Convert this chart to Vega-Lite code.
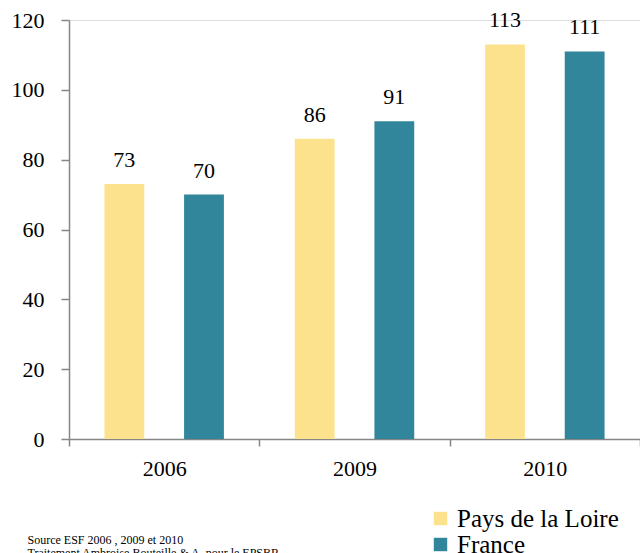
{
  "$schema": "https://vega.github.io/schema/vega-lite/v6.json",
  "width": 571,
  "height": 419,
  "autosize": {"type": "none"},
  "padding": {"left": 69, "top": 20, "right": 0, "bottom": 114},
  "background": "white",
  "config": {"font": "Liberation Serif"},
  "data": {
    "values": [
      {"annee": "2006", "zone": "Pays de la Loire", "valeur": 73},
      {"annee": "2006", "zone": "France", "valeur": 70},
      {"annee": "2009", "zone": "Pays de la Loire", "valeur": 86},
      {"annee": "2009", "zone": "France", "valeur": 91},
      {"annee": "2010", "zone": "Pays de la Loire", "valeur": 113},
      {"annee": "2010", "zone": "France", "valeur": 111}
    ]
  },
  "encoding": {
    "x": {
      "field": "annee", "type": "nominal",
      "scale": {"paddingInner": 0, "paddingOuter": 0},
      "axis": {
        "title": ["Source ESF 2006 , 2009 et 2010", "Traitement Ambroise Bouteille & A. pour le EPSBR"],
        "titleX": -42, "titleY": 104, "titleAlign": "left", "titleAnchor": "start",
        "titleBaseline": "alphabetic", "titleFont": "Liberation Serif", "titleFontSize": 12,
        "titleFontWeight": "normal", "titleLineHeight": 13, "titleColor": "black",
        "labelAngle": 0, "tickBand": "extent",
        "domainColor": "#868686", "domainWidth": 1.5,
        "tickColor": "#868686", "tickWidth": 1.5, "tickSize": 7,
        "labelFont": "Liberation Serif", "labelFontSize": 22, "labelColor": "black",
        "labelPadding": 12
      }
    },
    "xOffset": {
      "field": "zone", "type": "nominal",
      "sort": ["Pays de la Loire", "France"],
      "scale": {"paddingInner": 0.5, "paddingOuter": 0.445}
    },
    "y": {
      "field": "valeur", "type": "quantitative",
      "scale": {"domain": [0, 120], "nice": false},
      "axis": {
        "title": null, "values": [0, 20, 40, 60, 80, 100, 120], "grid": false,
        "domainColor": "#868686", "domainWidth": 1.5,
        "tickColor": "#868686", "tickWidth": 1.5, "tickSize": 8,
        "labelFont": "Liberation Serif", "labelFontSize": 22, "labelColor": "black",
        "labelPadding": 17
      }
    }
  },
  "layer": [
    {
      "mark": {"type": "bar"},
      "encoding": {
        "color": {
          "field": "zone", "type": "nominal",
          "sort": ["Pays de la Loire", "France"],
          "scale": {"domain": ["Pays de la Loire", "France"], "range": ["#FDE28E", "#31869B"]},
          "legend": {
            "title": null, "orient": "none", "legendX": 359, "legendY": 486,
            "symbolType": "square", "symbolSize": 180, "symbolStrokeWidth": 0,
            "labelFont": "Liberation Serif", "labelFontSize": 25, "labelColor": "black",
            "labelLimit": 400, "labelOffset": 4, "rowPadding": 0, "padding": 0
          }
        }
      }
    },
    {
      "mark": {"type": "text", "dy": -17, "baseline": "alphabetic", "font": "Liberation Serif", "fontSize": 22, "color": "black"},
      "encoding": {
        "text": {"field": "valeur", "type": "quantitative"}
      }
    }
  ]
}
